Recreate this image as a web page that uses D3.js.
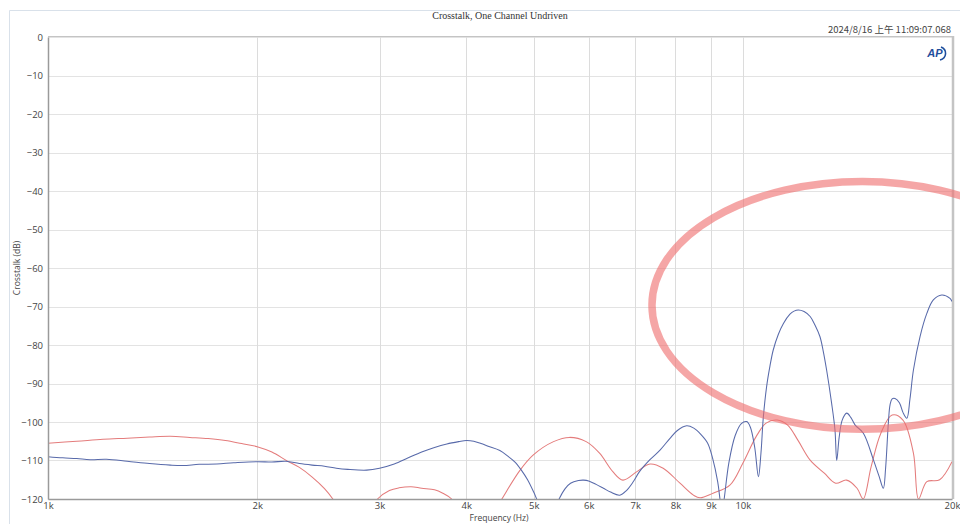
<!DOCTYPE html>
<html>
<head>
<meta charset="utf-8">
<script src="https://cdn.jsdelivr.net/npm/d3@7/dist/d3.min.js"></script>
<style>
  html, body { margin: 0; padding: 0; background: #fff; }
  svg { display: block; }
</style>
</head>
<body>
<svg id="chart" width="960" height="524"></svg>
<script>
// Crosstalk measurement, one channel undriven (frequency in Hz, level in dB)
const titleText = "Crosstalk, One Channel Undriven";
const stampText = "2024/8/16 上午 11:09:07.068";
const xLabelText = "Frequency (Hz)";
const yLabelText = "Crosstalk (dB)";

const yTicks = [0, -10, -20, -30, -40, -50, -60, -70, -80, -90, -100, -110, -120];
const xTickValues = [1000, 2000, 3000, 4000, 5000, 6000, 7000, 8000, 9000, 10000, 20000];
const xTickLabels = ["1k", "2k", "3k", "4k", "5k", "6k", "7k", "8k", "9k", "10k", "20k"];

// Channel A (blue trace)
const blueFreq = [1000, 1050, 1100, 1150, 1214, 1300, 1400, 1500, 1564, 1650, 1750, 1850, 2000, 2100, 2200, 2300, 2400, 2500, 2600, 2700, 2875, 3000, 3150, 3300, 3450, 3600, 3750, 3900, 4000, 4100, 4200, 4300, 4470, 4600, 4700, 4800, 4900, 5000, 5050, 5250, 5440, 5550, 5650, 5800, 5900, 6000, 6150, 6300, 6450, 6650, 6800, 6950, 7100, 7350, 7600, 7850, 8050, 8300, 8500, 8700, 8900, 9050, 9200, 9270, 9330, 9400, 9550, 9750, 9950, 10130, 10250, 10400, 10530, 10620, 10700, 10820, 10940, 11060, 11250, 11440, 11690, 11850, 12020, 12250, 12500, 12700, 12910, 13050, 13200, 13420, 13570, 13650, 13760, 13900, 14110, 14300, 14510, 14910, 15420, 15700, 15930, 16050, 16200, 16290, 16400, 16560, 16800, 17000, 17220, 17400, 17600, 17990, 18400, 18800, 19330, 19870, 20000];
const blueDb = [-109.0, -109.3, -109.5, -109.8, -109.7, -110.2, -110.8, -111.2, -111.3, -111.0, -110.9, -110.6, -110.3, -110.4, -110.2, -110.8, -111.2, -111.5, -112.0, -112.3, -112.5, -112.0, -110.9, -109.3, -107.8, -106.6, -105.7, -105.1, -104.8, -105.0, -105.6, -106.3, -107.4, -109.0, -110.4, -112.5, -115.0, -118.2, -120.0, -127.0, -120.0, -117.3, -115.9, -115.2, -115.1, -115.3, -116.2, -117.2, -118.2, -119.0, -117.8, -115.6, -112.9, -109.8, -107.3, -104.3, -102.2, -101.0, -101.6, -103.2, -105.5, -109.5, -115.5, -120.0, -124.0, -120.0, -110.5, -103.5, -100.4, -99.9, -101.3, -106.5, -114.2, -108.0, -99.0, -90.8, -85.5, -81.3, -77.2, -74.4, -72.0, -71.2, -70.9, -71.3, -72.6, -74.8, -77.8, -81.5, -86.5, -95.1, -102.0, -110.0, -104.0, -99.5, -97.7, -98.8, -100.8, -102.9, -109.9, -114.0, -117.2, -112.0, -100.0, -95.5, -94.0, -93.9, -95.0, -97.5, -99.0, -94.0, -86.5, -77.8, -71.8, -68.3, -67.0, -67.9, -68.7];

// Channel B (red trace)
const redFreq = [1000, 1100, 1200, 1300, 1400, 1500, 1600, 1700, 1800, 1900, 2000, 2100, 2208, 2300, 2400, 2500, 2570, 2650, 2800, 2980, 3100, 3200, 3330, 3450, 3600, 3700, 3810, 4000, 4300, 4500, 4780, 4990, 5340, 5630, 5950, 6220, 6500, 6720, 7040, 7350, 7680, 8120, 8490, 8680, 9060, 9580, 10000, 10450, 10800, 11200, 11600, 12000, 12500, 13100, 13600, 14100, 14600, 14900, 15300, 15800, 16400, 17000, 17600, 17900, 18400, 19200, 20000];
const redDb = [-105.5, -105.0, -104.5, -104.2, -103.9, -103.7, -104.0, -104.3, -104.8, -105.6, -106.4, -107.8, -110.1, -111.8, -114.3, -117.3, -120.0, -124.0, -127.0, -120.0, -117.8, -117.1, -116.8, -117.2, -117.6, -118.5, -120.0, -126.0, -126.0, -120.0, -112.5, -108.6, -105.1, -104.0, -105.1, -108.1, -112.9, -115.1, -112.9, -110.9, -112.0, -115.9, -119.0, -119.7, -118.5, -116.4, -110.7, -103.8, -100.3, -99.5, -100.8, -104.7, -109.9, -113.3, -115.9, -115.1, -117.2, -120.0, -111.6, -102.9, -98.2, -99.5, -108.1, -120.0, -115.5, -115.0, -110.3];

// Highlight ring around the high-frequency region
const ringCenterFreq = 14850, ringCenterDb = -69.7;
const ringLeftFreq = 7400, ringTopDb = -37.5;

const svg = d3.select("#chart");
const W = 960, H = 524;
const m = { left: 48, right: 8, top: 37, bottom: 25 };

const x = d3.scaleLog().domain([1000, 20000]).range([m.left, W - m.right]);
const y = d3.scaleLinear().domain([-120, 0]).range([H - m.bottom, m.top]);

// outer panel border
svg.append("path")
  .attr("d", `M9.5,${H} V10.5 H${W}`)
  .attr("fill", "none").attr("stroke", "#d9e1ea").attr("stroke-width", 1);

// title and timestamp
svg.append("text").attr("x", 500).attr("y", 19)
  .attr("text-anchor", "middle")
  .style("font-family", "'Liberation Serif', serif").style("font-size", "10px").style("fill", "#333")
  .text(titleText);
svg.append("text").attr("x", 951).attr("y", 33)
  .attr("text-anchor", "end")
  .style("font-family", "'Noto Sans CJK SC', 'Open Sans', sans-serif").style("font-size", "9.5px").style("fill", "#444")
  .text(stampText);

// grid
const grid = svg.append("g");
grid.selectAll("line.h").data(yTicks).join("line")
  .attr("x1", m.left).attr("x2", W - m.right)
  .attr("y1", d => Math.round(y(d)) + 0.5).attr("y2", d => Math.round(y(d)) + 0.5)
  .attr("stroke", "#e3e3e3");
grid.selectAll("line.v").data(xTickValues.slice(1, -1)).join("line")
  .attr("y1", m.top).attr("y2", H - m.bottom)
  .attr("x1", d => Math.round(x(d)) + 0.5).attr("x2", d => Math.round(x(d)) + 0.5)
  .attr("stroke", "#dcdcdc");

// plot frame
svg.append("line").attr("x1", m.left).attr("x2", W - m.right).attr("y1", m.top - 0.5).attr("y2", m.top - 0.5).attr("stroke", "#c4c4c4");
svg.append("line").attr("x1", W - m.right + 1).attr("x2", W - m.right + 1).attr("y1", m.top - 1).attr("y2", H - m.bottom).attr("stroke", "#c4c4c4").attr("stroke-width", 2.5);

// clip traces to the plot area
svg.append("clipPath").attr("id", "plotClip").append("rect")
  .attr("x", m.left).attr("y", m.top).attr("width", W - m.left - m.right).attr("height", H - m.top - m.bottom);

const line = d3.line().x(d => x(d[0])).y(d => y(d[1])).curve(d3.curveCatmullRom.alpha(0.5));
const traces = svg.append("g").attr("clip-path", "url(#plotClip)");
traces.append("path").datum(d3.zip(redFreq, redDb))
  .attr("d", line).attr("fill", "none").attr("stroke", "#e47c7c").attr("stroke-width", 1.05);
traces.append("path").datum(d3.zip(blueFreq, blueDb))
  .attr("d", line).attr("fill", "none").attr("stroke", "#586aaa").attr("stroke-width", 1.05);

// axes
const yAxis = svg.append("g").attr("transform", `translate(${m.left},0)`)
  .call(d3.axisLeft(y).tickValues(yTicks).tickSize(0).tickPadding(5));
const xAxis = svg.append("g").attr("transform", `translate(0,${H - m.bottom})`)
  .call(d3.axisBottom(x).tickValues(xTickValues).tickFormat((d, i) => xTickLabels[i]).tickSize(0).tickPadding(3));
[yAxis, xAxis].forEach(g => {
  g.select(".domain").attr("stroke", "#9a9a9a").attr("stroke-width", 1.5);
  g.selectAll("text").style("font-family", "'Open Sans', sans-serif").style("font-size", "9.5px").style("fill", "#444");
});

// axis titles
svg.append("text").attr("x", 499).attr("y", 521).attr("text-anchor", "middle")
  .style("font-family", "'Open Sans', sans-serif").style("font-size", "8.5px").style("fill", "#444")
  .text(xLabelText);
svg.append("text").attr("transform", "translate(20,268) rotate(-90)").attr("text-anchor", "middle")
  .style("font-family", "'Open Sans', sans-serif").style("font-size", "8.5px").style("fill", "#444")
  .text(yLabelText);

// AP logo
const logo = svg.append("g").attr("transform", "translate(936,53)");
logo.append("text").attr("x", -1).attr("y", 4).attr("text-anchor", "middle")
  .style("font-family", "'Liberation Sans', sans-serif").style("font-weight", "bold").style("font-style", "italic")
  .style("font-size", "11px").style("fill", "#1f4e9c").text("AP");
logo.append("path").attr("d", "M5,-6 A8,7 0 0 1 4,7").attr("fill", "none").attr("stroke", "#1f4e9c").attr("stroke-width", 1.6);

// highlight ring
const cx = x(ringCenterFreq), cy = y(ringCenterDb);
svg.append("ellipse")
  .attr("cx", cx).attr("cy", cy)
  .attr("rx", cx - x(ringLeftFreq)).attr("ry", cy - y(ringTopDb))
  .attr("fill", "none").attr("stroke", "#ef6f6f").attr("stroke-opacity", 0.62).attr("stroke-width", 7.5);
</script>
</body>
</html>
